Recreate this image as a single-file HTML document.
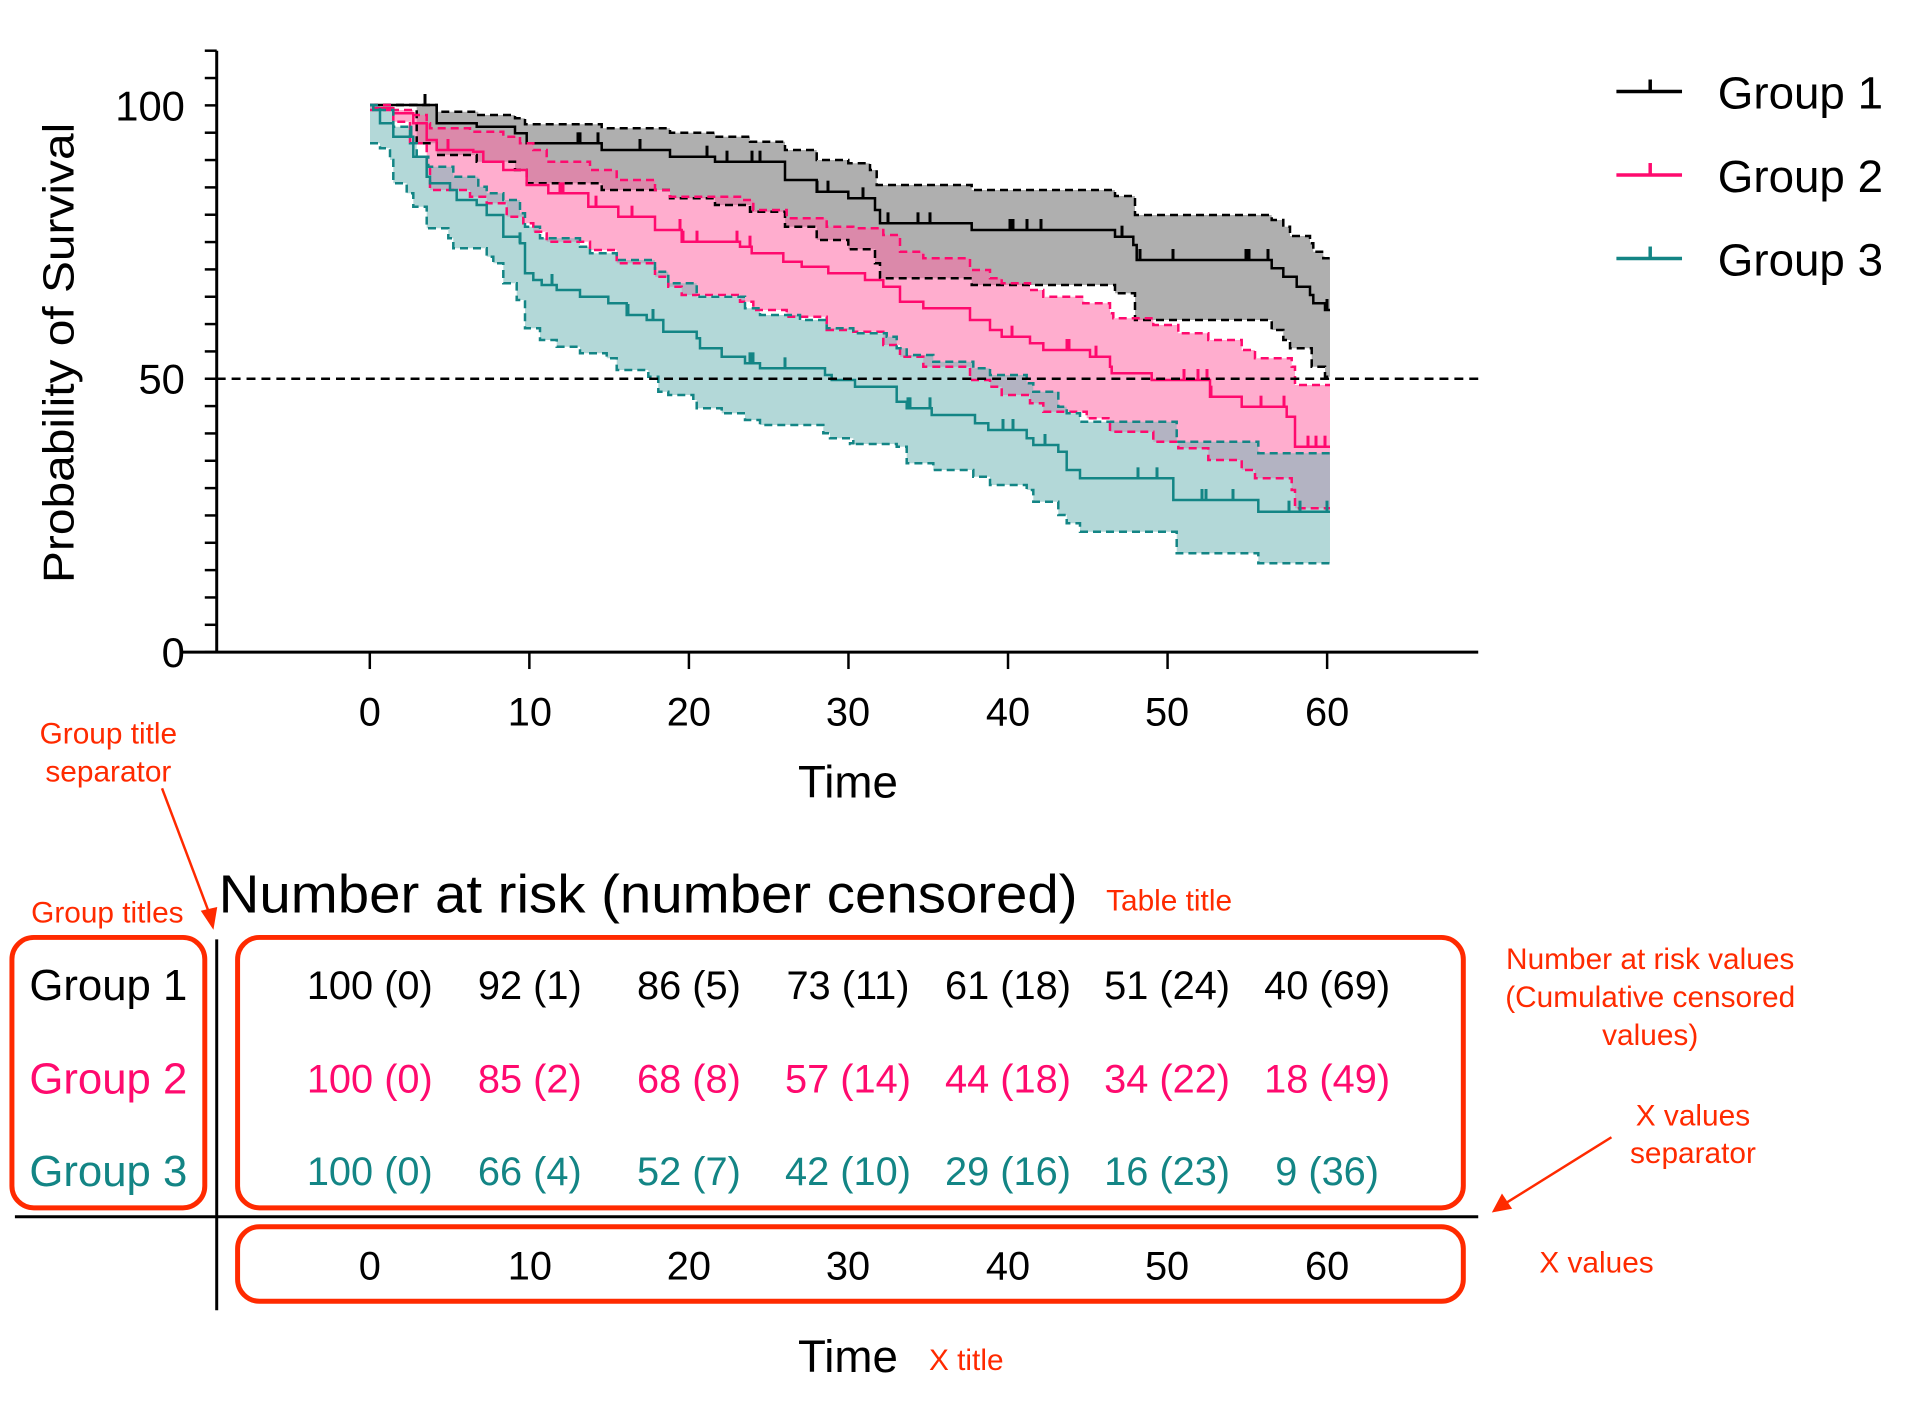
<!DOCTYPE html>
<html><head><meta charset="utf-8"><style>
html,body{margin:0;padding:0;background:#fff;}
svg{display:block;font-family:"Liberation Sans",Arial,sans-serif;}
</style></head><body>
<svg id="s" xmlns="http://www.w3.org/2000/svg" width="1909" height="1421" viewBox="0 0 1909 1421">
<rect width="1909" height="1421" fill="#fff"/>
<g id="bands"></g>
<g id="lines"></g>
<g transform="scale(0.9941)">
<g stroke="#000" stroke-width="3" fill="none">
<line x1="218" y1="51" x2="218" y2="657"/>
<line x1="184" y1="656" x2="1487" y2="656"/>
</g>
<g id="ticks" stroke="#000" stroke-width="2.5"></g>
<line x1="218" y1="381" x2="1487" y2="381" stroke="#000" stroke-width="2.5" stroke-dasharray="9,6"/>
<g font-size="42" fill="#000" text-anchor="end">
<text x="186" y="121">100</text>
<text x="186" y="396">50</text>
<text x="186" y="671">0</text>
</g>
<g font-size="40" fill="#000" text-anchor="middle">
<text x="372" y="730">0</text><text x="533" y="730">10</text><text x="693" y="730">20</text><text x="853" y="730">30</text><text x="1014" y="730">40</text><text x="1174" y="730">50</text><text x="1335" y="730">60</text>
</g>
<text x="853" y="802" font-size="46" text-anchor="middle">Time</text>
<text transform="translate(74,355) rotate(-90)" font-size="44" text-anchor="middle" textLength="463" lengthAdjust="spacingAndGlyphs">Probability of Survival</text>
<g stroke-width="3.5">
<line x1="1626" y1="92" x2="1692" y2="92" stroke="#000"/><line x1="1660" y1="92" x2="1660" y2="80" stroke="#000"/>
<line x1="1626" y1="176" x2="1692" y2="176" stroke="#ff0a6e"/><line x1="1660" y1="176" x2="1660" y2="164" stroke="#ff0a6e"/>
<line x1="1626" y1="260" x2="1692" y2="260" stroke="#138585"/><line x1="1660" y1="260" x2="1660" y2="248" stroke="#138585"/>
</g>
<g font-size="46" fill="#000">
<text x="1728" y="109">Group 1</text><text x="1728" y="193">Group 2</text><text x="1728" y="277">Group 3</text>
</g>
<text x="220" y="918" font-size="54" textLength="864" lengthAdjust="spacingAndGlyphs">Number at risk (number censored)</text>
<g fill="#ff2a00" font-size="30" text-anchor="middle">
<text x="109" y="748">Group title</text>
<text x="109" y="786">separator</text>
<text x="108" y="928">Group titles</text>
<text x="1176" y="916">Table title</text>
<text x="1660" y="975">Number at risk values</text>
<text x="1660" y="1013">(Cumulative censored</text>
<text x="1660" y="1051">values)</text>
<text x="1703" y="1132">X values</text>
<text x="1703" y="1170">separator</text>
<text x="1606" y="1280">X values</text>
<text x="972" y="1378">X title</text>
</g>
<g stroke="#ff2a00" stroke-width="2.5" fill="#ff2a00">
<line x1="163" y1="793" x2="211" y2="920"/>
<polygon points="214,932 204,917 217,914" />
<line x1="1621" y1="1144" x2="1512" y2="1212"/>
<polygon points="1503,1218 1511,1203 1519,1215"/>
</g>
<g fill="none" stroke="#ff2a00" stroke-width="5">
<rect x="12" y="943" width="194" height="272" rx="22"/>
<rect x="239" y="943" width="1233" height="272" rx="22"/>
<rect x="239" y="1234" width="1233" height="75" rx="22"/>
</g>
<g stroke="#000" stroke-width="3">
<line x1="218" y1="945" x2="218" y2="1318"/>
<line x1="15" y1="1224" x2="1487" y2="1224"/>
</g>
<g font-size="44" text-anchor="middle">
<text x="109" y="1006" fill="#000">Group 1</text>
<text x="109" y="1100" fill="#ff0a6e">Group 2</text>
<text x="109" y="1193" fill="#138585">Group 3</text>
</g>
<g font-size="40" text-anchor="middle">
<g fill="#000">
<text x="372" y="1005">100 (0)</text><text x="533" y="1005">92 (1)</text><text x="693" y="1005">86 (5)</text><text x="853" y="1005">73 (11)</text><text x="1014" y="1005">61 (18)</text><text x="1174" y="1005">51 (24)</text><text x="1335" y="1005">40 (69)</text>
</g>
<g fill="#ff0a6e">
<text x="372" y="1099">100 (0)</text><text x="533" y="1099">85 (2)</text><text x="693" y="1099">68 (8)</text><text x="853" y="1099">57 (14)</text><text x="1014" y="1099">44 (18)</text><text x="1174" y="1099">34 (22)</text><text x="1335" y="1099">18 (49)</text>
</g>
<g fill="#138585">
<text x="372" y="1192">100 (0)</text><text x="533" y="1192">66 (4)</text><text x="693" y="1192">52 (7)</text><text x="853" y="1192">42 (10)</text><text x="1014" y="1192">29 (16)</text><text x="1174" y="1192">16 (23)</text><text x="1335" y="1192">9 (36)</text>
</g>
<g fill="#000">
<text x="372" y="1287">0</text><text x="533" y="1287">10</text><text x="693" y="1287">20</text><text x="853" y="1287">30</text><text x="1014" y="1287">40</text><text x="1174" y="1287">50</text><text x="1335" y="1287">60</text>
</g>
</g>
<text x="853" y="1380" font-size="46" text-anchor="middle">Time</text>
</g>
</svg>
<script>
(function(){
var NS="http://www.w3.org/2000/svg";
function el(t,a,p){var e=document.createElementNS(NS,t);for(var k in a)e.setAttribute(k,a[k]);p.appendChild(e);return e;}
var tk=document.getElementById('ticks');
for(var v=0;v<=110;v+=5){var y=656-5.5*v;el('line',{x1:206,y1:y,x2:218,y2:y},tk);}
for(var t=0;t<=60;t+=10){var x=372+16.05*t;el('line',{x1:x,y1:656,x2:x,y2:673},tk);}
function conv(a,b){var r=[];a.forEach(function(p){r.push([p[0]/3+360,p[1]/3+90]);});b.forEach(function(p){r.push([p[0]/3+850,p[1]/3+90]);});return r;}
var END=1330;
function stepPts(p){var r=[[p[0][0],p[0][1]]];for(var i=1;i<p.length;i++){r.push([p[i][0],p[i-1][1]]);r.push([p[i][0],p[i][1]]);}r.push([END,p[p.length-1][1]]);return r;}
function pathD(p){var s=stepPts(p);return 'M'+s.map(function(q){return q[0].toFixed(1)+','+q[1].toFixed(1);}).join(' L');}
var S={
g1m:conv([[30,45],[230,100],[350,110],[465,130],[500,160],[725,180],[930,200],[1065,215],[1275,270],[1370,305],[1465,325]],[[75,360],[90,400],[365,420],[795,440],[850,465],[860,510],[1265,535],[1300,560],[1340,590],[1380,615],[1390,640],[1425,660]]),
g1u:conv([[30,45],[230,65],[355,75],[465,85],[495,103],[725,115],[930,128],[1065,140],[1170,155],[1275,180],[1370,210],[1465,220]],[[60,240],[80,285],[365,300],[795,318],[855,375],[1265,390],[1300,410],[1320,438],[1380,460],[1390,485],[1420,505]]),
g1l:conv([[30,45],[170,160],[230,195],[350,215],[465,240],[500,280],[725,300],[930,325],[1065,345],[1170,365],[1275,410],[1370,450],[1465,478]],[[75,520],[90,565],[365,585],[795,610],[855,690],[1265,720],[1300,750],[1320,775],[1385,830],[1425,860]]),
g2m:conv([[30,45],[40,55],[100,70],[160,100],[200,150],[230,180],[340,185],[370,215],[430,240],[500,285],[565,310],[685,350],[775,380],[885,420],[965,455],[1140,470],[1175,490],[1270,515],[1325,530],[1405,550]],[[45,570],[100,590],[150,635],[220,655],[360,690],[420,720],[455,740],[540,760],[580,780],[720,800],[780,830],[785,850],[905,870],[1080,920],[1175,950],[1310,980],[1335,1070]]),
g2u:conv([[30,45],[100,60],[160,75],[200,100],[210,115],[330,125],[430,140],[480,160],[520,180],[560,215],[690,240],[770,270],[885,300],[930,320],[1140,330],[1180,360],[1280,385],[1400,410],[1480,415]],[[100,435],[150,485],[220,505],[360,540],[420,565],[455,580],[540,600],[580,620],[700,640],[780,670],[790,685],[910,705],[985,730],[1075,750],[1175,780],[1215,805],[1325,830],[1335,885]]),
g2l:conv([[30,60],[100,95],[150,160],[200,230],[210,300],[330,320],[380,340],[440,380],[490,400],[520,425],[560,455],[690,480],[770,520],[885,560],[925,590],[965,615],[1140,635],[1180,660],[1280,680],[1400,720],[1480,725]],[[100,765],[150,800],[220,830],[360,870],[420,890],[455,915],[540,940],[580,965],[710,985],[780,1025],[910,1055],[985,1075],[1075,1110],[1175,1140],[1215,1165],[1325,1200],[1335,1255]]),
g3m:conv([[30,45],[40,60],[60,100],[100,140],[160,200],[200,260],[210,280],[270,300],[290,330],[350,345],[380,375],[430,440],[480,460],[495,550],[520,570],[545,585],[590,600],[660,620],[745,640],[800,675],[860,690],[910,725],[1010,745],[1020,775],[1085,800],[1155,820],[1200,835],[1395,855],[1415,870]],[[15,890],[140,935],[170,955],[245,975],[375,1000],[415,1020],[530,1045],[550,1065],[625,1085],[650,1140],[690,1165],[970,1230],[1225,1265]]),
g3u:conv([[30,45],[60,60],[100,110],[150,160],[170,200],[205,230],[280,260],[355,290],[380,310],[430,330],[480,370],[495,410],[540,445],[660,470],[690,490],[770,510],[885,545],[925,580],[1010,620],[1155,655],[1200,675],[1320,690],[1400,715],[1480,730]],[[110,740],[140,775],[170,795],[250,815],[370,835],[420,855],[530,880],[550,905],[625,950],[650,970],[690,995],[980,1055],[1225,1090]]),
g3l:conv([[30,160],[60,175],[90,210],[100,280],[140,310],[160,350],[200,415],[265,445],[280,475],[380,500],[400,520],[430,580],[470,630],[495,715],[540,750],[590,770],[660,790],[740,805],[770,840],[865,860],[895,905],[925,915],[1000,930],[1010,955],[1085,970],[1155,990],[1200,1005],[1390,1030],[1410,1045],[1480,1060]],[[0,1062],[140,1070],[170,1120],[250,1140],[370,1160],[420,1185],[530,1200],[550,1235],[625,1275],[650,1300],[690,1325],[980,1390],[1225,1420]])
};
var bands=document.getElementById('bands'),lines=document.getElementById('lines');
function band(u,l,fill){var a=stepPts(u),b=stepPts(l).reverse();var s=a.concat(b);el('polygon',{points:s.map(function(q){return q[0].toFixed(1)+','+q[1].toFixed(1);}).join(' '),fill:fill,'fill-opacity':'0.55'},bands);}
band(S.g1u,S.g1l,'#6e6e6e');
band(S.g2u,S.g2l,'#ff6aa6');
band(S.g3u,S.g3l,'#74b8b8');
var C={g1:'#000',g2:'#ff0a6e',g3:'#138585'};
['g1','g2','g3'].forEach(function(g){
 el('path',{d:pathD(S[g+'u']),stroke:C[g],'stroke-width':2.5,fill:'none','stroke-dasharray':'8,5'},lines);
 el('path',{d:pathD(S[g+'l']),stroke:C[g],'stroke-width':2.5,fill:'none','stroke-dasharray':'8,5'},lines);
 el('path',{d:pathD(S[g+'m']),stroke:C[g],'stroke-width':2.5,fill:'none'},lines);
});
function lvl(p,x){var y=p[0][1];for(var i=0;i<p.length;i++){if(p[i][0]<=x)y=p[i][1];}return y;}
var cens={g1:[425,578,580,598,640,707,727,752,760,817,828,863,888,918,930,1010,1013,1027,1041,1122,1140,1173,1246,1249,1268,1327],
g2:[448,563,560,596,632,680,683,697,737,750,1012,1067,1069,1096,1184,1198,1207,1211,1261,1284,1308,1316,1325],
g3:[411,520,552,628,653,750,753,785,908,910,930,1003,1013,1045,1138,1157,1202,1206,1233,1289,1300,1327]};
['g1','g2','g3'].forEach(function(g){cens[g].forEach(function(x){var y=lvl(S[g+'m'],x);el('line',{x1:x,y1:y,x2:x,y2:y-11,stroke:C[g],'stroke-width':3},lines);});});
})();
</script>
</body></html>
